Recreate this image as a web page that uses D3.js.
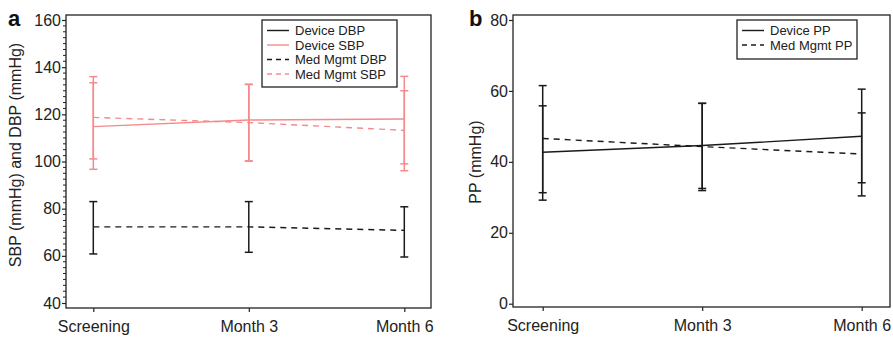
<!DOCTYPE html>
<html>
<head>
<meta charset="utf-8">
<script src="https://cdn.jsdelivr.net/npm/d3@7"></script>
<style>
  body { margin: 0; background: #fff; }
  svg { display: block; font-family: "Liberation Sans", Arial, sans-serif; }
</style>
</head>
<body>
<svg id="chart" width="893" height="337"></svg>
<script>
// visits on the x axis
const visits = ['Screening', 'Month 3', 'Month 6'];

// panel a: blood pressure (mmHg)
const deviceSbp = [114.8, 117.6, 118.0];
const deviceSbpLow = [96.7, 100.2, 99.0];
const deviceSbpHigh = [133.4, 132.7, 136.1];
const medSbp = [118.7, 116.5, 113.2];
const medSbpLow = [101.1, 100.2, 96.1];
const medSbpHigh = [136.0, 132.7, 130.0];
const medDbp = [72.3, 72.3, 70.8];
const medDbpLow = [60.8, 61.5, 59.5];
const medDbpHigh = [83.0, 83.0, 80.8];
const ticksA = [40, 60, 80, 100, 120, 140, 160];
const legendA = ['Device DBP', 'Device SBP', 'Med Mgmt DBP', 'Med Mgmt SBP'];

// panel b: pulse pressure (mmHg)
const devicePp = [42.7, 44.6, 47.2];
const devicePpLow = [29.2, 32.5, 34.1];
const devicePpHigh = [55.8, 56.5, 60.5];
const medPp = [46.6, 44.3, 42.2];
const medPpLow = [31.3, 31.9, 30.4];
const medPpHigh = [61.5, 56.5, 53.8];
const ticksB = [0, 20, 40, 60, 80];
const legendB = ['Device PP', 'Med Mgmt PP'];

const pink = '#f58a8c';
const ink = '#1a1a1a';
const svg = d3.select('#chart');

function panel(o) {
  const g = svg.append('g');
  const x = d3.scalePoint().domain(visits).range([o.x0, o.x1]);
  const y = d3.scaleLinear().domain(o.domain).range([o.yBottom, o.yTop]);

  // frame
  g.append('rect')
    .attr('x', o.left).attr('y', o.top)
    .attr('width', o.right - o.left).attr('height', o.bottom - o.top)
    .attr('fill', 'none').attr('stroke', '#222').attr('stroke-width', 1.3);

  // y axis
  const yAxis = g.append('g').attr('transform', `translate(${o.left},0)`)
    .call(d3.axisLeft(y).tickValues(o.ticks).tickSize(4).tickPadding(1).tickSizeOuter(0));
  yAxis.select('.domain').remove();
  yAxis.selectAll('text').attr('font-size', 16).attr('fill', '#222')
    .attr('font-family', '"Liberation Sans", Arial, sans-serif');
  yAxis.selectAll('line').attr('stroke', '#222').attr('stroke-width', 1.2);

  if (o.minor) {
    const minor = d3.range(o.domain[0], o.domain[1] + 0.01, o.minor)
      .filter(v => !o.ticks.includes(v));
    g.selectAll('.minor').data(minor).enter().append('line')
      .attr('x1', o.left - 3).attr('x2', o.left)
      .attr('y1', d => y(d)).attr('y2', d => y(d))
      .attr('stroke', '#222').attr('stroke-width', 1);
  }

  // x axis
  const xAxis = g.append('g').attr('transform', `translate(0,${o.bottom})`)
    .call(d3.axisBottom(x).tickSize(4).tickPadding(9).tickSizeOuter(0));
  xAxis.select('.domain').remove();
  xAxis.selectAll('text').attr('font-size', 16).attr('fill', '#222')
    .attr('font-family', '"Liberation Sans", Arial, sans-serif');
  xAxis.selectAll('line').attr('stroke', '#222').attr('stroke-width', 1.2);

  // y label
  g.append('text')
    .attr('transform', `translate(${o.labelX},${o.labelY}) rotate(-90)`)
    .attr('text-anchor', 'middle').attr('font-size', 16).attr('fill', '#222')
    .text(o.label);

  // panel letter
  g.append('text').attr('x', o.letterX).attr('y', 26)
    .attr('font-size', 22).attr('font-weight', 'bold').attr('fill', '#111')
    .text(o.letter);

  const line = d3.line().x((d, i) => x(visits[i])).y(d => y(d));

  o.series.forEach(s => {
    // error bars
    s.low.forEach((lo, i) => {
      const cx = x(visits[i]);
      g.append('line').attr('x1', cx).attr('x2', cx)
        .attr('y1', y(lo)).attr('y2', y(s.high[i]))
        .attr('stroke', s.color).attr('stroke-width', 1.5);
      [lo, s.high[i]].forEach(v => {
        g.append('line').attr('x1', cx - 4).attr('x2', cx + 4)
          .attr('y1', y(v)).attr('y2', y(v))
          .attr('stroke', s.color).attr('stroke-width', 1.5);
      });
    });
    g.append('path').datum(s.values)
      .attr('d', line).attr('fill', 'none')
      .attr('stroke', s.color).attr('stroke-width', 1.4)
      .attr('stroke-dasharray', s.dash ? '6,5' : null);
  });

  // legend
  const lg = g.append('g');
  lg.append('rect')
    .attr('x', o.legend.x).attr('y', o.legend.y)
    .attr('width', o.legend.w).attr('height', o.legend.h)
    .attr('fill', '#fff').attr('stroke', '#222').attr('stroke-width', 1.3);
  o.legend.items.forEach((it, i) => {
    const ly = o.legend.y + 10.5 + i * 14.5;
    lg.append('line')
      .attr('x1', o.legend.x + 5).attr('x2', o.legend.x + 27)
      .attr('y1', ly).attr('y2', ly)
      .attr('stroke', it.color).attr('stroke-width', 1.4)
      .attr('stroke-dasharray', it.dash ? '5,4' : null);
    lg.append('text')
      .attr('x', o.legend.x + 33).attr('y', ly + 4.5)
      .attr('font-size', 13).attr('fill', '#222')
      .text(it.name);
  });
}

panel({
  letter: 'a', letterX: 8,
  left: 66, right: 431, top: 15, bottom: 308,
  x0: 93.3, x1: 404.3,
  domain: [40, 160], yBottom: 303, yTop: 20,
  ticks: ticksA, minor: 2.5,
  label: 'SBP (mmHg) and DBP (mmHg)', labelX: 21, labelY: 155,
  series: [
    { values: deviceSbp, low: deviceSbpLow, high: deviceSbpHigh, color: pink, dash: false },
    { values: medSbp, low: medSbpLow, high: medSbpHigh, color: pink, dash: true },
    { values: medDbp, low: medDbpLow, high: medDbpHigh, color: ink, dash: true }
  ],
  legend: {
    x: 262, y: 20, w: 135, h: 67,
    items: [
      { name: legendA[0], color: ink, dash: false },
      { name: legendA[1], color: pink, dash: false },
      { name: legendA[2], color: ink, dash: true },
      { name: legendA[3], color: pink, dash: true }
    ]
  }
});

panel({
  letter: 'b', letterX: 469,
  left: 513, right: 890, top: 15, bottom: 307,
  x0: 542.7, x1: 861.7,
  domain: [0, 80], yBottom: 303.7, yTop: 20,
  ticks: ticksB, minor: null,
  label: 'PP (mmHg)', labelX: 481, labelY: 162,
  series: [
    { values: devicePp, low: devicePpLow, high: devicePpHigh, color: ink, dash: false },
    { values: medPp, low: medPpLow, high: medPpHigh, color: ink, dash: true }
  ],
  legend: {
    x: 737, y: 20, w: 120, h: 39,
    items: [
      { name: legendB[0], color: ink, dash: false },
      { name: legendB[1], color: ink, dash: true }
    ]
  }
});
</script>
</body>
</html>
